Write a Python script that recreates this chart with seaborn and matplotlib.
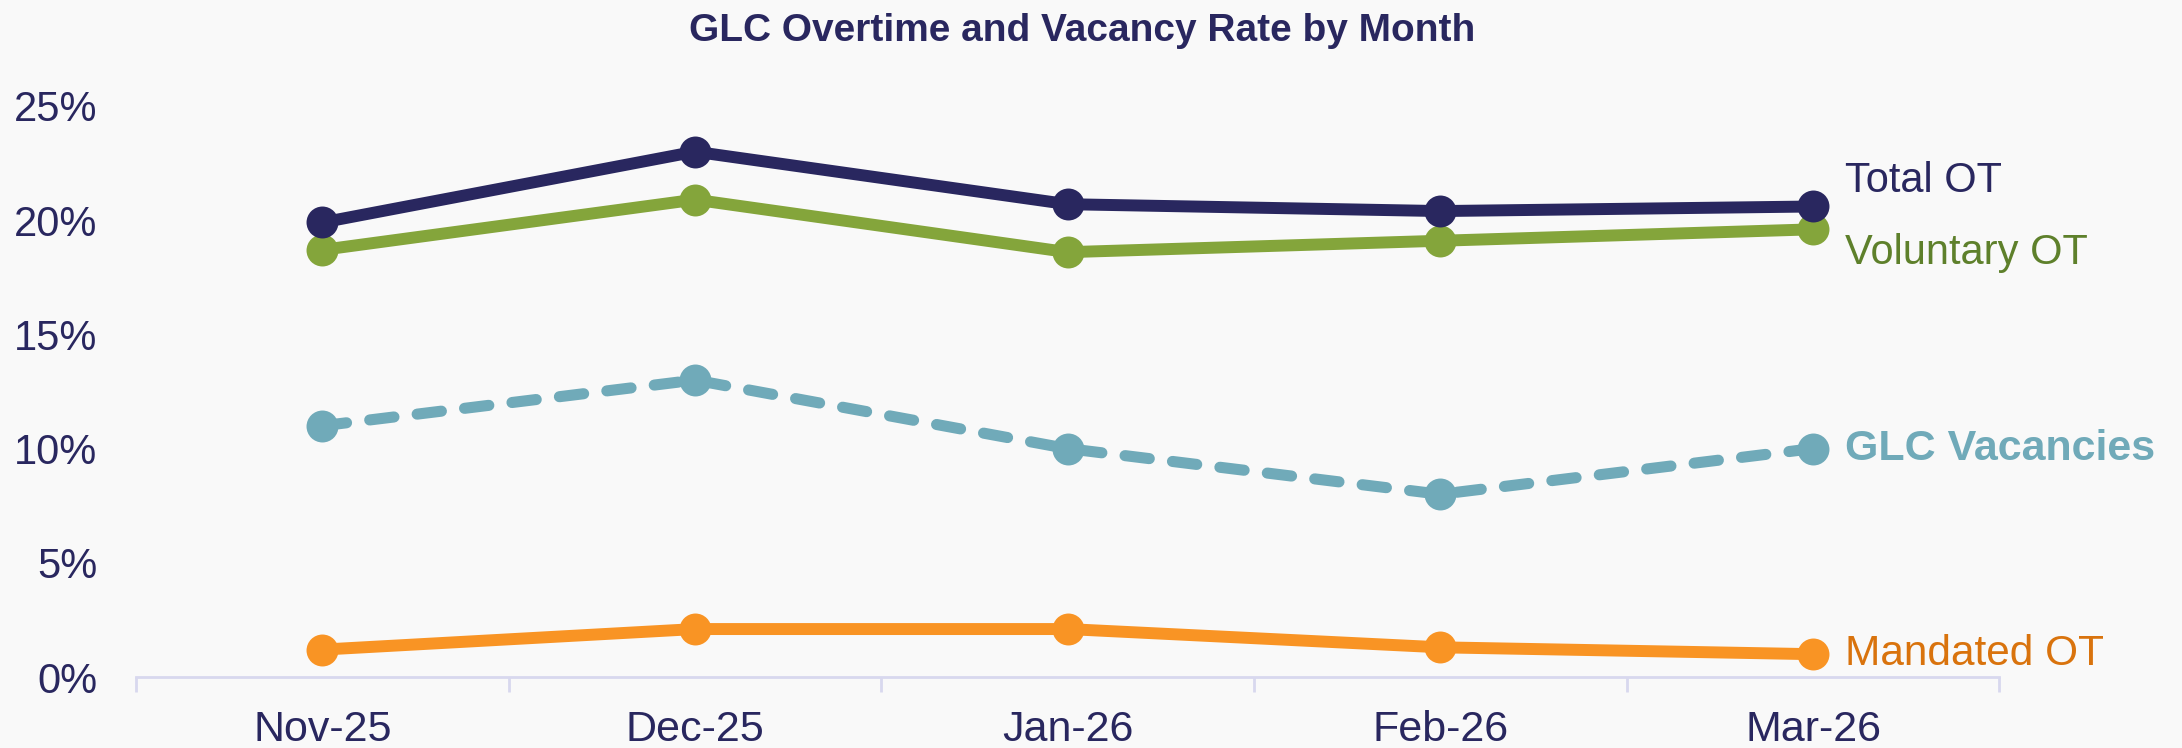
import matplotlib
matplotlib.use("Agg")
import matplotlib.pyplot as plt
import seaborn as sns
import pandas as pd
from matplotlib.ticker import FixedLocator, PercentFormatter

# Monthly rates (percent of hours / positions)
months = ["Nov-25", "Dec-25", "Jan-26", "Feb-26", "Mar-26"]
total_ot = [19.9, 23.0, 20.7, 20.4, 20.6]
voluntary_ot = [18.7, 20.9, 18.6, 19.1, 19.6]
glc_vacancies = [11.0, 13.0, 10.0, 8.0, 10.0]
mandated_ot = [1.2, 2.1, 2.1, 1.3, 1.0]
y_ticks = [0, 5, 10, 15, 20, 25]

df = pd.DataFrame({
    "Month": months,
    "Total OT": total_ot,
    "Voluntary OT": voluntary_ot,
    "GLC Vacancies": glc_vacancies,
    "Mandated OT": mandated_ot,
})

sns.set_theme(style="white")
plt.rcParams["font.family"] = ["Liberation Sans", "DejaVu Sans"]

BG = "#F9F9F9"
NAVY = "#29275F"
GREEN_LINE = "#84A53B"
GREEN_TEXT = "#5E802B"
TEAL = "#70AAB9"
ORANGE_LINE = "#F99424"
ORANGE_TEXT = "#D9730D"
AXIS = "#D8D8EE"

fig = plt.figure(figsize=(21.82, 7.48), dpi=100, facecolor=BG)
ax = fig.add_axes([0.0623, 0.0949, 0.854, 0.7634])
ax.set_facecolor(BG)

# name, line colour, label colour, dashed?, label weight, label size, label y-offset
series = [
    ("Total OT", NAVY, NAVY, False, "normal", 30, 18),
    ("Voluntary OT", GREEN_LINE, GREEN_TEXT, False, "normal", 30, -17),
    ("GLC Vacancies", TEAL, TEAL, True, "bold", 31, 0),
    ("Mandated OT", ORANGE_LINE, ORANGE_TEXT, False, "normal", 30.5, 0),
]

for name, line_color, text_color, dashed, weight, size, dy in series[::-1]:
    sns.lineplot(
        data=df, x="Month", y=name, ax=ax, color=line_color,
        linewidth=8 if dashed else 8.6, marker="o", markersize=23,
        markeredgewidth=0, clip_on=False, sort=False, legend=False,
    )
    ln = ax.lines[-1]
    if dashed:
        ln.set_linestyle((0, (2.2, 2.1)))
    ln.set_solid_capstyle("round")
    ln.set_dash_capstyle("round")
    ax.annotate(
        name, xy=(len(months) - 1, df[name].iloc[-1]), xytext=(23, dy),
        textcoords="offset points", ha="left", va="center",
        fontsize=size, color=text_color, fontweight=weight,
        annotation_clip=False,
    )

ax.set_xlim(-0.5, len(months) - 0.5)
ax.set_ylim(0, 25)
ax.yaxis.set_major_locator(FixedLocator(y_ticks))
ax.yaxis.set_major_formatter(PercentFormatter(decimals=0))
ax.set_xlabel("")
ax.set_ylabel("")

# Category boundaries carry the tick marks; labels sit at the centres
ax.xaxis.set_minor_locator(FixedLocator([i - 0.5 for i in range(len(months) + 1)]))
ax.tick_params(axis="x", which="minor", length=11, width=2, color=AXIS,
               direction="out", bottom=True)
ax.tick_params(axis="x", which="major", length=0, pad=24, labelsize=31,
               labelcolor=NAVY)
ax.tick_params(axis="y", length=0, pad=28, labelsize=30, labelcolor=NAVY)

for side in ["top", "right", "left"]:
    ax.spines[side].set_visible(False)
ax.spines["bottom"].set_color(AXIS)
ax.spines["bottom"].set_linewidth(2)
ax.grid(False)

fig.text(0.496, 0.9586, "GLC Overtime and Vacancy Rate by Month",
         ha="center", va="center", fontsize=28, fontweight="bold", color=NAVY)

fig.savefig("out.png", dpi=100, facecolor=BG)
